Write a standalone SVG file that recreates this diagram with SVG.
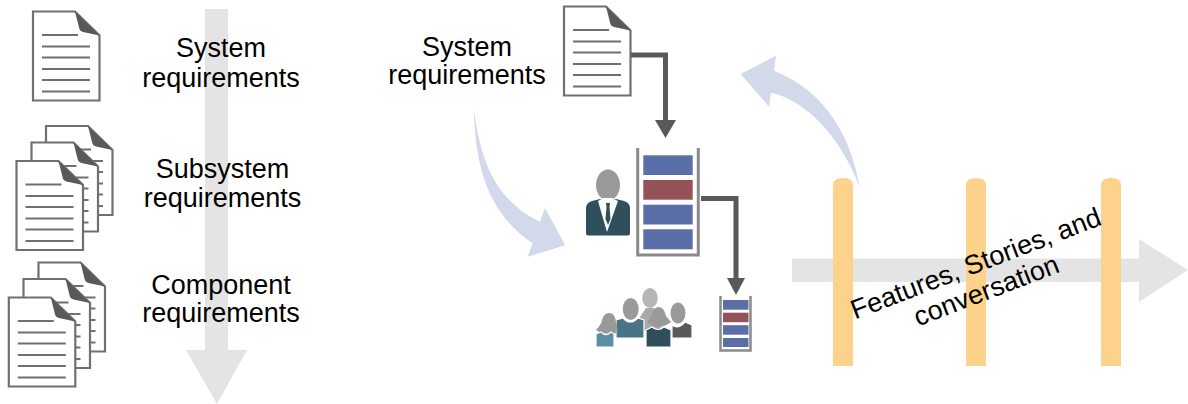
<svg xmlns="http://www.w3.org/2000/svg" xmlns:xlink="http://www.w3.org/1999/xlink" width="1188" height="404" viewBox="0 0 1188 404">
<style>
.t{font-family:"Liberation Sans",Arial,sans-serif;font-size:27px;fill:#000;text-anchor:middle}
.pg{fill:#fff;stroke:#707070;stroke-width:2.200}
.ln{stroke:#707070;stroke-width:1.800}
.fold{fill:#58595b}
.bar{fill:#fdd28b}
.big{fill:#e4e4e4}
.sw{fill:#d2d9ea}
.b{fill:#5a6fa8}.r{fill:#955259}
.fr{fill:none;stroke:#8a8a8a;stroke-width:3}
.c{fill:none;stroke:#58595b;stroke-width:5}
.ch{fill:#58595b}
.shirt{fill:#fff}
.ws{stroke:#fff;stroke-width:1.200}
</style>
<defs>
<g id="doc">
<path class="pg" d="M0,0H42L66.500,24V89H0Z"/>
<path class="fold" d="M42,0L66.500,24L50,20.500Q46.500,19.500 46,16Z"/>
<path class="ln" d="M9,23.500H45M9,35H57M9,46H57M9,57.500H57M9,68.500H57M9,80H57"/>
</g>
</defs>
<g id="arrow-vertical"><path class="big" d="M205,9H228V350H247L217,404L186,350H205Z"/></g>
<g id="arrow-horizontal"><path class="big" d="M792,258.500H1139V239L1188,270L1139,302V282H792Z"/></g>
<g id="milestones">
<path class="bar" d="M833,366V185Q833,178 843,178Q853,178 853,185V366Z"/>
<path class="bar" d="M966,366V185Q966,178 976,178Q986,178 986,185V366Z"/>
<path class="bar" d="M1101,366V185Q1101,178 1111,178Q1121,178 1121,185V366Z"/>
</g>
<g id="sweeps">
<path class="sw" d="M860,188C848,122 816,88 774,70.700L776,55.700L740.700,74L769,106.700L771,92.700C805,100 840,135 860,188Z"/>
<path class="sw" d="M474,109C480,160 495,200 540,221.700L545,208L565.300,245.300L527.700,256.700L532.700,243.300C490,215 475,170 474,109Z"/>
</g>
<g id="doc-system"><use xlink:href="#doc" href="#doc" x="33" y="11.500"/></g>
<g id="doc-subsystem">
<use xlink:href="#doc" href="#doc" x="46" y="126"/>
<use xlink:href="#doc" href="#doc" x="31.500" y="142.500"/>
<use xlink:href="#doc" href="#doc" x="16.500" y="161"/>
</g>
<g id="doc-component">
<use xlink:href="#doc" href="#doc" x="38.500" y="262.500"/>
<use xlink:href="#doc" href="#doc" x="23.500" y="279"/>
<use xlink:href="#doc" href="#doc" x="8.800" y="297.500"/>
</g>
<g id="doc-right"><use xlink:href="#doc" href="#doc" x="564" y="6.500"/></g>
<g id="labels">
<text class="t" x="221" y="57">System</text>
<text class="t" x="221" y="86.500">requirements</text>
<text class="t" x="222.500" y="178">Subsystem</text>
<text class="t" x="222.500" y="206.500">requirements</text>
<text class="t" x="221" y="294">Component</text>
<text class="t" x="221" y="322">requirements</text>
<text class="t" x="467" y="55.500">System</text>
<text class="t" x="467" y="84">requirements</text>
</g>
<g id="owner">
<ellipse cx="608" cy="185" rx="12" ry="15.500" fill="#999a99"/>
<path fill="#2f4f5c" d="M586,208Q586,203 592,201L600,199L616,199L624,201Q630,203 630,208V233Q630,235.500 628,235.500H588Q586,235.500 586,233Z"/>
<path class="shirt" d="M598,201L607,232L618,201L612,198H603Z"/>
<path fill="#2f4f5c" d="M606,203H610L609.500,207L610.500,219L608,225L605.500,219L606.500,207Z"/>
</g>
<g id="backlog-large">
<path class="fr" d="M637.700,148V255H698.300V148"/>
<rect class="b" x="643.300" y="155.300" width="49.400" height="19.700"/>
<rect class="r" x="643.300" y="180" width="49.400" height="19.700"/>
<rect class="b" x="643.300" y="204.700" width="49.400" height="19.800"/>
<rect class="b" x="643.300" y="229.300" width="49.400" height="20"/>
</g>
<g id="team">
<path fill="#a9aaa9" d="M638,320L646,308H654L662,331H640Z"/>
<ellipse cx="650" cy="298" rx="7.700" ry="10" fill="#b5b6b5"/>
<ellipse cx="678" cy="313" rx="7.500" ry="10.500" fill="#999a99"/>
<path class="ws" fill="#58595b" d="M672,325Q678,330 685,322L692,325V338H672Z"/>
<ellipse cx="630.700" cy="309" rx="8" ry="11" fill="#999a99"/>
<path class="ws" fill="#4a7485" d="M616,320L623,318Q630,326 638,318L644,320V338H616Z"/>
<path fill="#999a99" d="M596,330Q601,325 602,320Q604,313 609,313Q615,313 616,322L618,332Q608,338 596,330Z"/>
<path class="ws" fill="#5b8fa5" d="M596,334L601,332Q606,337 611,332L614,334V347H596Z"/>
<path fill="#999a99" d="M647,322Q652,317 652,314Q654,307 658.500,307Q664,307 666,316L671,322Q658,332 647,322Z"/>
<path class="ws" fill="#2f4f5c" d="M646,330L652,327Q658,332 664,327L671,330V347H646Z"/>
</g>
<g id="backlog-small">
<path fill="none" stroke="#8a8a8a" stroke-width="2.500" d="M720.500,296V350.500H750.500V296"/>
<rect class="b" x="723" y="300" width="25.500" height="9.700"/>
<rect class="r" x="723" y="312.700" width="25.500" height="9.500"/>
<rect class="b" x="723" y="325.200" width="25.500" height="9.500"/>
<rect class="b" x="723" y="338" width="25.500" height="9"/>
</g>
<g id="connectors">
<path class="c" d="M631,55H665.500V120"/>
<path class="ch" d="M655,120H676L665.500,138Z"/>
<path class="c" d="M701,198.500H736V278"/>
<path class="ch" d="M727,278H745L736,295Z"/>
</g>
<g id="timeline-label" transform="translate(-5 5) rotate(-21 978 265)">
<text class="t" x="983" y="269">Features, Stories, and</text>
<text class="t" x="983" y="298">conversation</text>
</g>
</svg>
